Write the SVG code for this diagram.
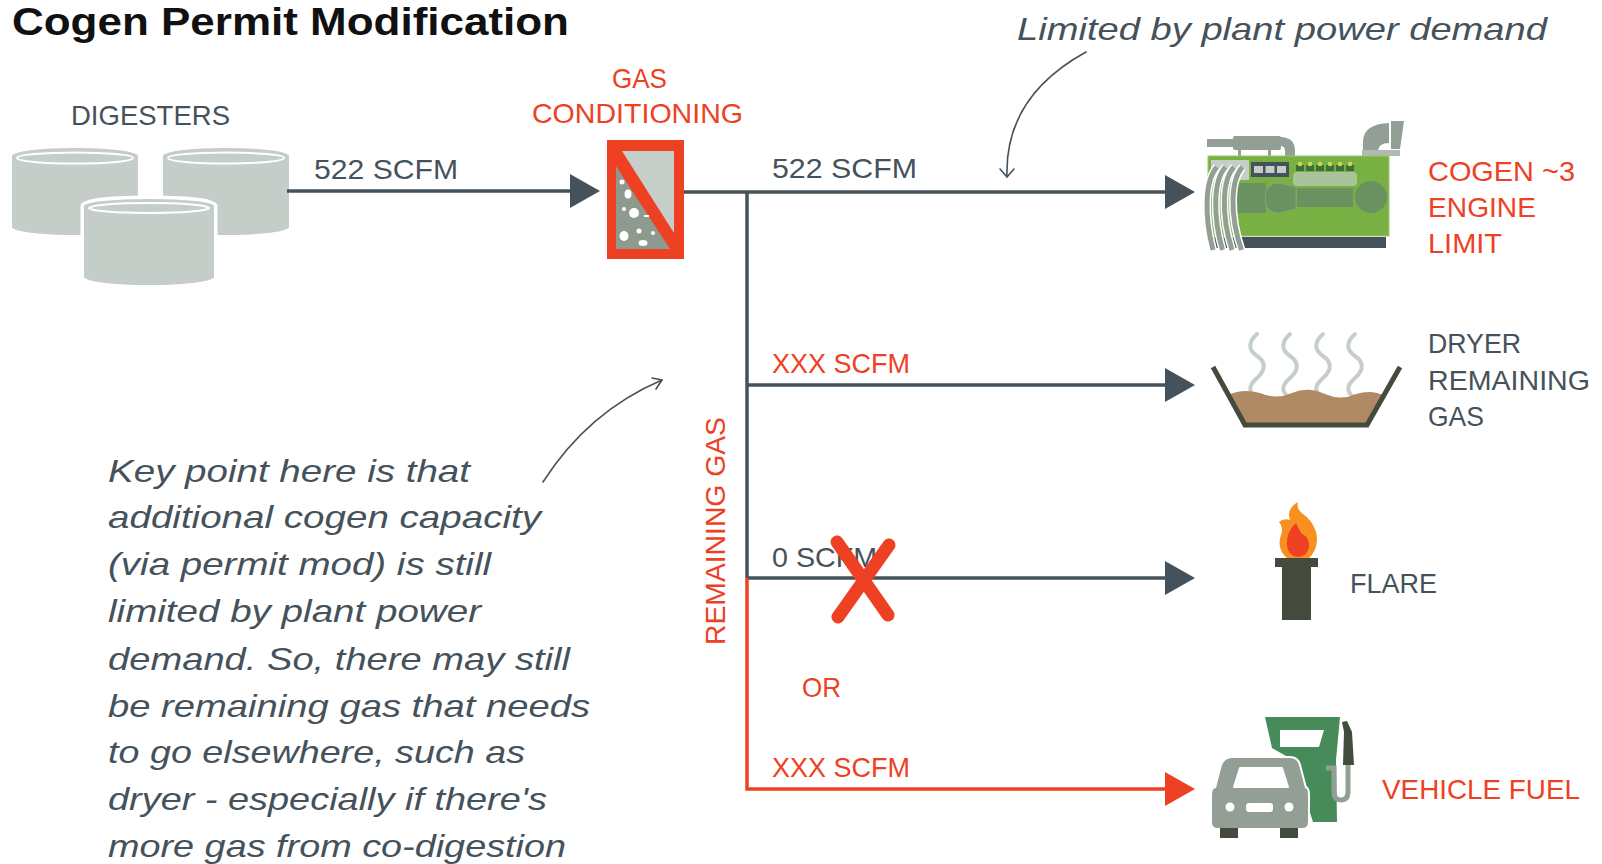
<svg xmlns="http://www.w3.org/2000/svg" width="1602" height="864" viewBox="0 0 1602 864">
  <style>
    .lbl { font-family: 'Liberation Sans', Arial, sans-serif; font-size: 28px; }
    .dark { fill: #45525b; }
    .red { fill: #ee4123; }
    .note { font-family: 'Liberation Sans', Arial, sans-serif; font-size: 32px; font-style: italic; fill: #45525b; }
    .title { font-family: 'Liberation Sans', Arial, sans-serif; font-size: 38px; font-weight: bold; fill: #111111; }
    .flow { fill: none; stroke: #45525b; stroke-width: 3.5; }
    .flow-red { fill: none; stroke: #ee4123; stroke-width: 3.5; }
    .callout { fill: none; stroke: #45525b; stroke-width: 1.6; stroke-linecap: round; stroke-linejoin: round; }
    .tank { fill: #c4cdc8; }
    .rim { fill: none; stroke: #ffffff; stroke-width: 2; }
    .steam { fill: none; stroke: #c5cec9; stroke-width: 4; stroke-linecap: round; }
    .hose { fill: none; stroke: #939f94; stroke-width: 5; stroke-linecap: butt; }
    .hose-edge { fill: none; stroke: #ffffff; stroke-width: 8; stroke-linecap: butt; }
    .pipe { fill: #939f94; }
    .olive { fill: #434c3c; }
  </style>
  <defs>
    <marker id="head-dark" viewBox="0 0 30 34" refX="0" refY="17" markerWidth="30" markerHeight="34" markerUnits="userSpaceOnUse" orient="auto">
      <path d="M0 0 L30 17 L0 34 Z" fill="#45525b"/>
    </marker>
    <marker id="head-red" viewBox="0 0 30 34" refX="0" refY="17" markerWidth="30" markerHeight="34" markerUnits="userSpaceOnUse" orient="auto">
      <path d="M0 0 L30 17 L0 34 Z" fill="#ee4123"/>
    </marker>
  </defs>

  <rect width="1602" height="864" fill="#ffffff"/>

  <text class="title" x="12" y="35" textLength="557" lengthAdjust="spacingAndGlyphs">Cogen Permit Modification</text>

  <!-- Digester tanks -->
  <g id="digesters">
    <g>
      <rect class="tank" x="12" y="156" width="126" height="71"/>
      <ellipse class="tank" cx="75" cy="227" rx="63" ry="8"/>
      <ellipse class="tank" cx="75" cy="156" rx="63" ry="8"/>
      <ellipse class="rim" cx="75" cy="158" rx="58" ry="5.5"/>
    </g>
    <g>
      <rect class="tank" x="163" y="156" width="126" height="71"/>
      <ellipse class="tank" cx="226" cy="227" rx="63" ry="8"/>
      <ellipse class="tank" cx="226" cy="156" rx="63" ry="8"/>
      <ellipse class="rim" cx="226" cy="158" rx="58" ry="5.5"/>
    </g>
    <g>
      <path d="M84 206 A65 7 0 0 1 214 206 V277 A65 8 0 0 1 84 277 Z" fill="#ffffff" stroke="#ffffff" stroke-width="7"/>
      <rect class="tank" x="84" y="206" width="130" height="71"/>
      <ellipse class="tank" cx="149" cy="277" rx="65" ry="8"/>
      <ellipse class="tank" cx="149" cy="206" rx="65" ry="7"/>
      <ellipse class="rim" cx="149" cy="208" rx="60" ry="5"/>
    </g>
    <text class="lbl dark" x="71" y="125" textLength="159" lengthAdjust="spacingAndGlyphs">DIGESTERS</text>
  </g>

  <!-- Gas conditioning vessel -->
  <g id="gas-conditioning">
    <rect x="607" y="140" width="77" height="119" fill="#ee4123"/>
    <polygon points="622,151 674,151 674,233" fill="#c5cec9"/>
    <polygon points="616,166 616,249 670,249" fill="#8f9a8e"/>
    <g fill="#ffffff">
      <circle cx="622" cy="182" r="2.5"/>
      <ellipse cx="628" cy="194" rx="3.5" ry="4.5"/>
      <circle cx="624" cy="209" r="2"/>
      <circle cx="634" cy="213" r="5"/>
      <rect x="644" y="215" width="5" height="2"/>
      <circle cx="639" cy="231" r="2.5"/>
      <ellipse cx="624" cy="236" rx="4.5" ry="5"/>
      <ellipse cx="643" cy="243" rx="4.5" ry="3"/>
      <circle cx="653" cy="233" r="2"/>
    </g>
    <text class="lbl red" x="612" y="88" textLength="55" lengthAdjust="spacingAndGlyphs">GAS</text>
    <text class="lbl red" x="532" y="123" textLength="211" lengthAdjust="spacingAndGlyphs">CONDITIONING</text>
  </g>

  <!-- Flow lines -->
  <g id="connectors">
    <path class="flow" d="M287 191 H570" marker-end="url(#head-dark)"/>
    <path class="flow" d="M684 192 H1165" marker-end="url(#head-dark)"/>
    <path class="flow" d="M747 192 V578"/>
    <path class="flow" d="M747 385 H1165" marker-end="url(#head-dark)"/>
    <path class="flow" d="M747 578 H1165" marker-end="url(#head-dark)"/>
    <path class="flow-red" d="M747 578 V789 H1165" marker-end="url(#head-red)"/>
    <!-- callout arrows -->
    <path class="callout" d="M1086 52 C1035 80 1005 120 1007 177"/>
    <path class="callout" d="M1000 169 L1007 177 L1014 169"/>
    <path class="callout" d="M543 482 C575 432 615 400 662 380"/>
    <path class="callout" d="M652 378 L662 380 L656 389"/>
  </g>

  <!-- Flow labels -->
  <g id="flow-labels">
    <text class="lbl dark" x="314" y="179" textLength="144" lengthAdjust="spacingAndGlyphs">522 SCFM</text>
    <text class="lbl dark" x="772" y="178" textLength="145" lengthAdjust="spacingAndGlyphs">522 SCFM</text>
    <text class="lbl red" x="772" y="373" textLength="138" lengthAdjust="spacingAndGlyphs">XXX SCFM</text>
    <text class="lbl dark" x="772" y="567" textLength="105" lengthAdjust="spacingAndGlyphs">0 SCFM</text>
    <path d="M837 542 L888 615 M889 545 L838 617" fill="none" stroke="#ee4123" stroke-width="13" stroke-linecap="round"/>
    <text class="lbl red" x="802" y="697" textLength="39" lengthAdjust="spacingAndGlyphs">OR</text>
    <text class="lbl red" x="772" y="777" textLength="138" lengthAdjust="spacingAndGlyphs">XXX SCFM</text>
    <text class="lbl red" x="725" y="645" transform="rotate(-90 725 645)" textLength="228" lengthAdjust="spacingAndGlyphs">REMAINING GAS</text>
  </g>

  <!-- Cogen engine -->
  <g id="cogen-engine">
    <rect class="pipe" x="1207" y="139" width="27" height="8"/>
    <rect class="pipe" x="1233" y="136" width="48" height="14" rx="2"/>
    <path class="pipe" d="M1280 137 Q1295 137 1295 151 V156 H1285 V151 Q1285 146 1280 146 Z"/>
    <rect class="pipe" x="1238" y="149" width="3" height="8"/>
    <rect class="pipe" x="1268" y="149" width="3" height="8"/>
    <path class="pipe" d="M1363 152 V142 Q1363 124 1389 123 V143 Q1378 143 1378 152 Z"/>
    <polygon class="pipe" points="1391,121 1404,121 1400,149 1391,149"/>
    <rect x="1362" y="150" width="38" height="6" fill="#b0b9b2"/>
    <rect x="1208" y="156" width="181" height="80" fill="#79b043" stroke="#9cc76e" stroke-width="1"/>
    <rect x="1211" y="237" width="175" height="11" fill="#45525b"/>
    <rect x="1211" y="160" width="38" height="20" fill="#c5cec9"/>
    <rect x="1251" y="162" width="38" height="15" fill="#45525b"/>
    <g fill="#c5cec9">
      <rect x="1254" y="166" width="9" height="7"/>
      <rect x="1265.5" y="166" width="9" height="7"/>
      <rect x="1277" y="166" width="9" height="7"/>
    </g>
    <g>
      <rect x="1296" y="165" width="8" height="6" fill="#3f6e3a"/>
      <rect x="1306" y="165" width="8" height="6" fill="#3f6e3a"/>
      <rect x="1316" y="165" width="8" height="6" fill="#3f6e3a"/>
      <rect x="1326" y="165" width="8" height="6" fill="#3f6e3a"/>
      <rect x="1336" y="165" width="8" height="6" fill="#3f6e3a"/>
      <rect x="1346" y="165" width="8" height="6" fill="#3f6e3a"/>
      <g fill="#c9d94c">
        <circle cx="1300" cy="164" r="2.3"/>
        <circle cx="1310" cy="164" r="2.3"/>
        <circle cx="1320" cy="164" r="2.3"/>
        <circle cx="1330" cy="164" r="2.3"/>
        <circle cx="1340" cy="164" r="2.3"/>
        <circle cx="1350" cy="164" r="2.3"/>
      </g>
    </g>
    <rect x="1293" y="172" width="64" height="14" rx="4" fill="#a9c49a"/>
    <g fill="#6a9160">
      <rect x="1232" y="183" width="34" height="30"/>
      <path d="M1296 187 V209 L1279 213 Q1265 213 1265 198 Q1265 183 1279 183 Z" stroke="#82a873" stroke-width="1"/>
      <rect x="1297" y="188" width="56" height="19"/>
      <circle cx="1371" cy="197" r="16"/>
    </g>
    <path class="hose-edge" d="M1217 167 C1205 180 1204 215 1213 250"/>
    <path class="hose" d="M1217 167 C1205 180 1204 215 1213 250"/>
    <path class="hose-edge" d="M1225.5 167 C1213.5 180 1212.5 215 1222.5 250"/>
    <path class="hose" d="M1225.5 167 C1213.5 180 1212.5 215 1222.5 250"/>
    <path class="hose-edge" d="M1234 167 C1222 180 1221 215 1232 250"/>
    <path class="hose" d="M1234 167 C1222 180 1221 215 1232 250"/>
    <path class="hose-edge" d="M1242.5 167 C1230.5 180 1229.5 215 1241.5 250"/>
    <path class="hose" d="M1242.5 167 C1230.5 180 1229.5 215 1241.5 250"/>
    <text class="lbl red" x="1428" y="181" textLength="147" lengthAdjust="spacingAndGlyphs">COGEN ~3</text>
    <text class="lbl red" x="1428" y="217" textLength="108" lengthAdjust="spacingAndGlyphs">ENGINE</text>
    <text class="lbl red" x="1428" y="253" textLength="74" lengthAdjust="spacingAndGlyphs">LIMIT</text>
  </g>

  <!-- Sludge dryer -->
  <g id="dryer">
    <path class="steam" d="M1257 334 C1248 342 1248 350 1257 356 S1266 370 1257 378 S1248 392 1257 398"/>
    <path class="steam" d="M1290 334 C1281 342 1281 350 1290 356 S1299 370 1290 378 S1281 392 1290 398"/>
    <path class="steam" d="M1323 334 C1314 342 1314 350 1323 356 S1332 370 1323 378 S1314 392 1323 398"/>
    <path class="steam" d="M1355 334 C1346 342 1346 350 1355 356 S1364 370 1355 378 S1346 392 1355 398"/>
    <path d="M1228 395 Q1243 388 1260 393 Q1276 400 1292 393 Q1308 386 1325 394 Q1341 401 1356 394 Q1372 389 1385 396 L1367 425 L1245 425 Z" fill="#b08a64"/>
    <polyline points="1213,367 1245,425 1367,425 1400,367" fill="none" stroke="#434c3c" stroke-width="5"/>
    <text class="lbl dark" x="1428" y="353" textLength="93" lengthAdjust="spacingAndGlyphs">DRYER</text>
    <text class="lbl dark" x="1428" y="390" textLength="162" lengthAdjust="spacingAndGlyphs">REMAINING</text>
    <text class="lbl dark" x="1428" y="426" textLength="56" lengthAdjust="spacingAndGlyphs">GAS</text>
  </g>

  <!-- Flare stack -->
  <g id="flare">
    <path d="M1298 502 Q1286 509 1290 520 Q1283 518 1279 522 Q1284 527 1281 535 Q1276 549 1288 559 H1308 Q1320 548 1316 532 Q1312 520 1303 514 Q1296 509 1298 502 Z" fill="#f7901e"/>
    <path d="M1296 523 Q1286 532 1287 545 Q1288 556 1298 557 Q1309 556 1309 544 Q1308 536 1302 534 Q1299 530 1296 523 Z" fill="#ee4123"/>
    <rect class="olive" x="1275" y="558" width="43" height="9"/>
    <rect class="olive" x="1282" y="566" width="29" height="54"/>
    <text class="lbl dark" x="1350" y="593" textLength="87" lengthAdjust="spacingAndGlyphs">FLARE</text>
  </g>

  <!-- Vehicle fuel station -->
  <g id="vehicle-fuel">
    <polygon points="1265,717 1340,717 1336,760 1337,822 1313,822 1293,760 1272,748" fill="#478b5a"/>
    <polygon points="1280,730 1324,730 1319,747 1280,747" fill="#ffffff"/>
    <path d="M1326 768 H1334 V792 Q1334 800 1341 800 Q1348 800 1348 792 V764" fill="none" stroke="#939f94" stroke-width="5"/>
    <polygon class="olive" points="1342,722 1347,721 1352,732 1354,765 1343,765 1344,732"/>
    <path d="M1232 758 H1290 Q1297 758 1299 765 L1305 788 Q1308 788 1308 795 V822 Q1308 828 1302 828 H1218 Q1212 828 1212 822 V795 Q1212 788 1216 788 L1222 765 Q1225 758 1232 758 Z" fill="#939f94" stroke="#ffffff" stroke-width="4" paint-order="stroke"/>
    <polygon points="1240,768 1282,768 1288,787 1234,787" fill="#ffffff" stroke="#ffffff" stroke-width="2" stroke-linejoin="round"/>
    <circle cx="1230" cy="807" r="4.5" fill="#ffffff"/>
    <circle cx="1289" cy="807" r="4.5" fill="#ffffff"/>
    <rect x="1246" y="803" width="27" height="9" rx="3" fill="#ffffff"/>
    <rect class="olive" x="1220" y="828" width="18" height="10"/>
    <rect class="olive" x="1280" y="828" width="18" height="10"/>
    <text class="lbl red" x="1382" y="799" textLength="198" lengthAdjust="spacingAndGlyphs">VEHICLE FUEL</text>
  </g>

  <!-- Notes -->
  <g id="notes">
    <text class="note" x="1017" y="40" textLength="530" lengthAdjust="spacingAndGlyphs">Limited by plant power demand</text>
    <text class="note" x="108" y="482" textLength="362" lengthAdjust="spacingAndGlyphs">Key point here is that</text>
    <text class="note" x="108" y="528" textLength="433" lengthAdjust="spacingAndGlyphs">additional cogen capacity</text>
    <text class="note" x="108" y="575" textLength="383" lengthAdjust="spacingAndGlyphs">(via permit mod) is still</text>
    <text class="note" x="108" y="622" textLength="373" lengthAdjust="spacingAndGlyphs">limited by plant power</text>
    <text class="note" x="108" y="670" textLength="462" lengthAdjust="spacingAndGlyphs">demand. So, there may still</text>
    <text class="note" x="108" y="717" textLength="482" lengthAdjust="spacingAndGlyphs">be remaining gas that needs</text>
    <text class="note" x="108" y="763" textLength="417" lengthAdjust="spacingAndGlyphs">to go elsewhere, such as</text>
    <text class="note" x="108" y="810" textLength="439" lengthAdjust="spacingAndGlyphs">dryer - especially if there's</text>
    <text class="note" x="108" y="857" textLength="458" lengthAdjust="spacingAndGlyphs">more gas from co-digestion</text>
  </g>
</svg>
